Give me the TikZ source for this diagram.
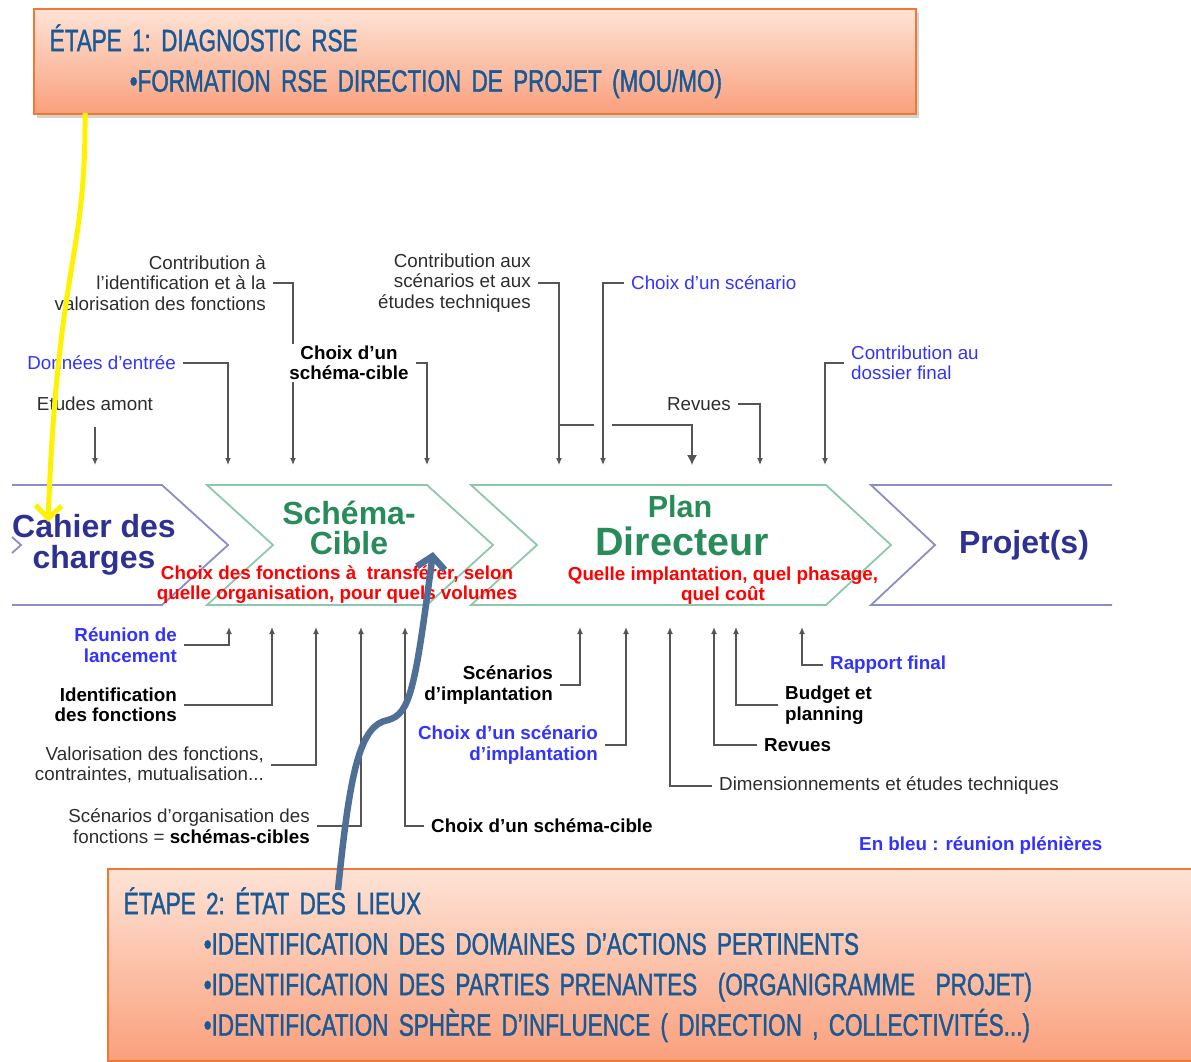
\documentclass[tikz,border=0pt]{standalone}
\usepackage{fontspec}
\setmainfont{Liberation Sans}
\newfontfamily\stepfont[FakeStretch=0.725, FakeBold=1.2]{Liberation Sans}
\newcommand\stepsize{\stepfont\fontsize{31}{40.5}\selectfont\frenchspacing\spaceskip=3.2pt plus 1pt\relax}
\usetikzlibrary{arrows.meta,shadows}

\definecolor{navytxt}{RGB}{46,49,146}
\definecolor{greentxt}{RGB}{40,140,90}
\definecolor{meetblue}{RGB}{51,51,255}
\definecolor{labelgray}{RGB}{45,45,45}
\definecolor{linegray}{RGB}{85,85,85}
\definecolor{chevblue}{RGB}{140,140,200}
\definecolor{chevgreen}{RGB}{140,200,170}
\definecolor{steptxt}{RGB}{25,90,150}
\definecolor{stepedge}{RGB}{240,120,50}
\definecolor{steptop}{RGB}{253,227,214}
\definecolor{stepbot}{RGB}{250,160,124}
\definecolor{arrowblue}{RGB}{79,111,150}

\tikzset{
  lbl/.style={font=\fontsize{18.8}{20.5}\selectfont, text=labelgray, inner sep=2pt},
  lblbold/.style={lbl, font=\fontsize{18.8}{20.5}\selectfont\bfseries, text=black},
  lblblue/.style={lbl, text=meetblue},
  lblbluebold/.style={lblbold, text=meetblue},
  redtxt/.style={font=\fontsize{18.8}{20}\selectfont\bfseries, text=red, align=center, inner sep=0pt},
  conn/.style={draw=linegray, line width=1.3pt},
  arr/.style={conn, shorten <=5pt, -{Latex[length=7pt,width=6pt]}},
  bigarr/.style={conn, -{Latex[length=10pt,width=10pt]}},
  chevb/.style={draw=chevblue, line width=1.8pt, line join=miter},
  chevg/.style={draw=chevgreen, line width=1.8pt, line join=miter},
  stepbox/.style={draw=stepedge, line width=1.5pt, top color=steptop, bottom color=stepbot,
    drop shadow={opacity=0.35, shadow xshift=3pt, shadow yshift=-4pt},
    font=\stepsize, text=steptxt, align=left, inner ysep=0pt}
}

\begin{document}
\begin{tikzpicture}[x=1pt, y=-1pt]
\useasboundingbox (0,0) rectangle (1191,1061);

\node[stepbox, anchor=north west, minimum width=882pt, minimum height=105pt,
  text width=850pt, inner xsep=16pt] (etape1) at (33,8)
  {ÉTAPE 1: DIAGNOSTIC RSE\\\hspace*{80pt}•FORMATION RSE DIRECTION DE PROJET (MOU/MO)};

\draw[chevb] (12,485) -- (162,485) -- (228,545) -- (162,605) -- (12,605);
\draw[chevb] (12,537) -- (21,545) -- (12,553);
\draw[chevg] (207,485) -- (427,485) -- (493,545) -- (427,605) -- (207,605) -- (273,545) -- cycle;
\draw[chevg] (471,485) -- (826,485) -- (891,545) -- (826,605) -- (471,605) -- (537,545) -- cycle;
\draw[chevb] (1112,485) -- (871,485) -- (935,545) -- (871,605) -- (1112,605);

\node[font=\fontsize{32}{31}\selectfont\bfseries, text=navytxt, align=center] (cahier) at (94,545) {Cahier des\\charges};
\node[font=\fontsize{32}{30}\selectfont\bfseries, text=greentxt, align=center] (schema) at (349,528) {Schéma-\\Cible};
\node[redtxt] (schemared) at (337,585) {Choix des fonctions à~ transférer, selon\\quelle organisation, pour quels volumes};
\node[font=\fontsize{30.5}{30}\selectfont\bfseries, text=greentxt] (plan) at (680,507) {Plan};
\node[font=\fontsize{39.5}{36}\selectfont\bfseries, text=greentxt] (directeur) at (682,541) {Directeur};
\node[redtxt] (planred) at (723,586) {Quelle implantation, quel phasage,\\quel coût};
\node[font=\fontsize{32}{31}\selectfont\bfseries, text=navytxt] (projet) at (1024,545) {Projet(s)};

\coordinate (in1) at (95,465);
\coordinate (in2) at (228,465);
\coordinate (in3) at (293,465);
\coordinate (in4) at (427,465);
\coordinate (in5) at (559,465);
\coordinate (in6) at (603,465);
\coordinate (in7) at (692,465);
\coordinate (in8) at (760,465);
\coordinate (in9) at (825,465);
\coordinate (br1) at (559,425);
\coordinate (br2) at (594,425);
\coordinate (br3) at (612,425);

\node[lbl, align=right, anchor=east] (contribfct) at (268,283) {Contribution à\\l’identification et à la\\valorisation des fonctions};
\draw[arr] (contribfct.east) -| (in3);
\node[lblbold, align=center, fill=white] (choixcible) at (349,363) {Choix d’un\\schéma-cible};
\draw[arr] (choixcible.east) -| (in4);
\node[lblblue, anchor=east] (donnees) at (178,363) {Données d’entrée};
\draw[arr] (donnees.east) -| (in2);
\node[lbl] (amont) at (95,404) {Etudes amont};
\draw[arr, shorten <=14pt] (amont.south) -- (in1);
\node[lbl, align=right, anchor=east] (contribscen) at (533,283) {Contribution aux\\scénarios et aux\\études techniques};
\draw[arr] (contribscen.east) -| (in5);
\node[lblblue, anchor=west] (choixscen) at (629,283) {Choix d’un scénario};
\draw[arr] (choixscen.west) -| (in6);
\draw[conn] (br1) -- (br2);
\draw[bigarr] (br3) -| (in7);
\node[lbl, anchor=east] (revuesh) at (733,404) {Revues};
\draw[arr] (revuesh.east) -| (in8);
\node[lblblue, align=left, anchor=west] (dossier) at (849,363) {Contribution au\\dossier final};
\draw[arr] (dossier.west) -| (in9);

\coordinate (out1) at (229,627);
\coordinate (out2) at (272,627);
\coordinate (out3) at (316,627);
\coordinate (out4) at (361,627);
\coordinate (out5) at (405,627);
\coordinate (out6) at (580,627);
\coordinate (out7) at (626,627);
\coordinate (out8) at (670,627);
\coordinate (out9) at (714,627);
\coordinate (out10) at (736,627);
\coordinate (out11) at (802,627);

\node[lblbluebold, align=right, anchor=east] (reunion) at (179,645) {Réunion de\\lancement};
\draw[arr] (reunion.east) -| (out1);
\node[lblbold, align=right, anchor=east] (identfct) at (179,705) {Identification\\des fonctions};
\draw[arr] (identfct.east) -| (out2);
\node[lbl, align=right, anchor=east] (valor) at (266,765) {Valorisation des fonctions,\\contraintes, mutualisation...};
\draw[arr] (valor.east) -| (out3);
\node[lbl, align=right, anchor=east] (scenorg) at (312,826) {Scénarios d’organisation des\\fonctions = \textbf{\color{black}schémas-cibles}};
\draw[arr] (scenorg.east) -| (out4);
\node[lblbold, anchor=west] (choixcible2) at (429,826) {Choix d’un schéma-cible};
\draw[arr] (choixcible2.west) -| (out5);
\node[lblbold, align=right, anchor=east] (scenimp) at (555,685) {Scénarios\\d’implantation};
\draw[arr] (scenimp.east) -| (out6);
\node[lblbluebold, align=right, anchor=east] (choiximp) at (600,745) {Choix d’un scénario\\d’implantation};
\draw[arr] (choiximp.east) -| (out7);
\node[lbl, anchor=west] (dimens) at (717,786) {Dimensionnements et études techniques};
\draw[arr] (dimens.west) -| (out8);
\node[lblbold, anchor=west] (revuesb) at (762,745) {Revues};
\draw[arr] (revuesb.west) -| (out9);
\node[lblbold, align=left, anchor=west] (budget) at (783,705) {Budget et\\planning};
\draw[arr] (budget.west) -| (out10);
\node[lblbluebold, anchor=west] (rapport) at (828,665) {Rapport final};
\draw[arr] (rapport.west) -| (out11);
\node[lblbluebold, anchor=west] (enbleu) at (857,846) {En bleu : réunion plénières};

\node[stepbox, anchor=north west, minimum width=1088pt, minimum height=192pt,
  text width=1056pt, inner xsep=16pt] (etape2) at (107,868)
  {ÉTAPE 2: ÉTAT DES LIEUX\\
   \hspace*{80pt}•IDENTIFICATION DES DOMAINES D’ACTIONS PERTINENTS\\
   \hspace*{80pt}•IDENTIFICATION DES PARTIES PRENANTES~ (ORGANIGRAMME~ PROJET)\\
   \hspace*{80pt}•IDENTIFICATION SPHÈRE D’INFLUENCE ( DIRECTION , COLLECTIVITÉS...)};

\coordinate (y0) at (85,113);
\coordinate (y1) at (48,522);
\draw[yellow, line width=5pt, -{Straight Barb[length=13pt,width=26pt]}]
  (y0) .. controls (86,260) and (58,260) .. (y1);

\coordinate (b0) at (338,890);
\coordinate (b1) at (388,720);
\coordinate (b2) at (433,552);
\draw[arrowblue, line width=6.5pt, -{Straight Barb[length=12pt,width=28pt]}]
  (b0) .. controls (350,770) and (360,725) .. (b1)
       .. controls (410,714) and (415,690) .. (b2);
\end{tikzpicture}
\end{document}
